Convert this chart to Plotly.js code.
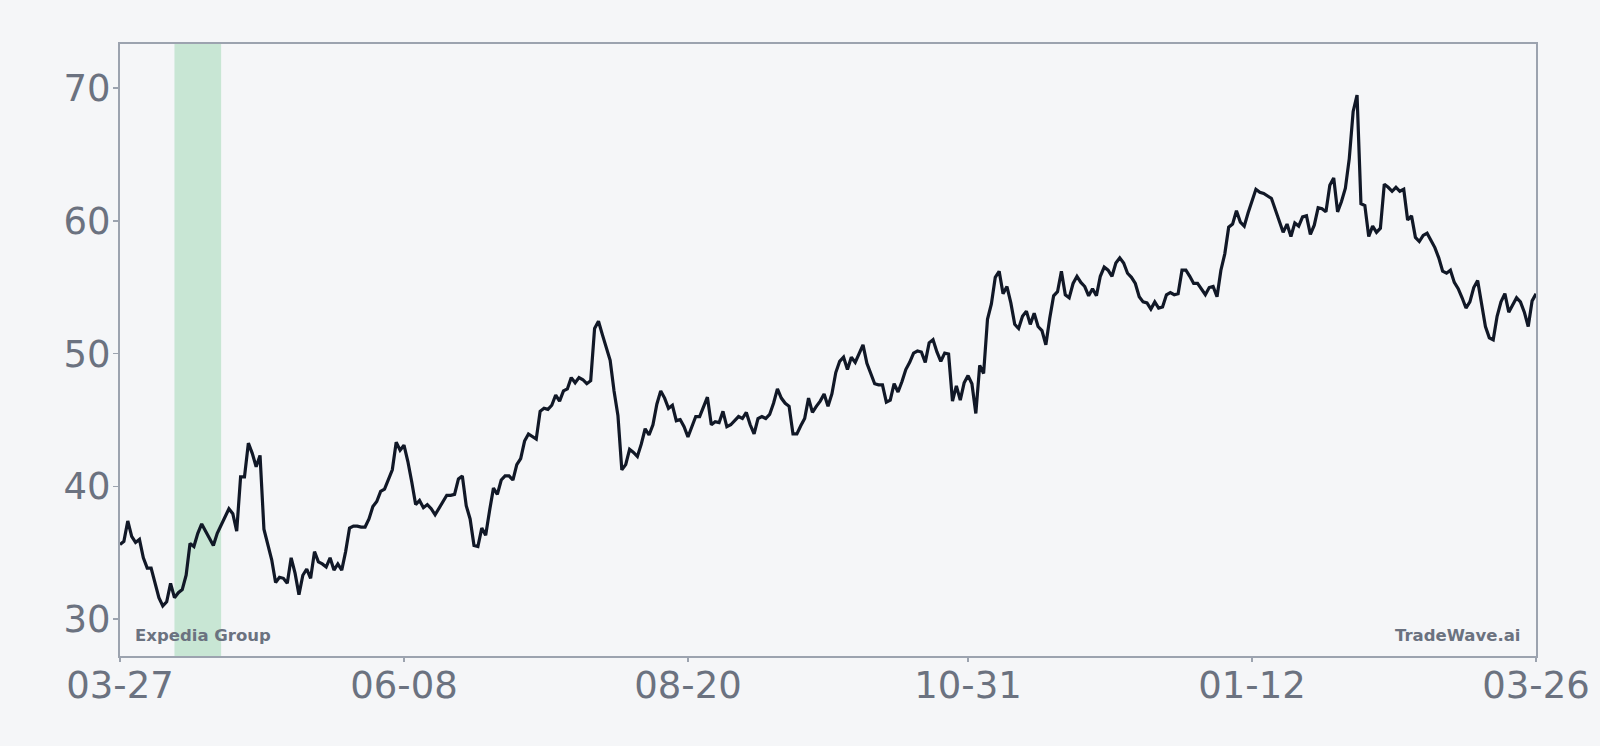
<!DOCTYPE html>
<html>
<head>
<meta charset="utf-8">
<script src="https://cdn.plot.ly/plotly-3.0.1.min.js"></script>
<style>
  html, body { margin: 0; padding: 0; background: #f5f6f8; }
  #chart { width: 1600px; height: 746px; }
</style>
</head>
<body>
<div id="chart"></div>
<script>
// days after 2024-03-27
var dayOffsets = [
  0,1,2,3,4,5,6,7,8,9,10,11,12,13,14,15,16,17,18,19,20,21,22,24,25,27,28,29,30,31,
  32,33,34,35,36,37,38,39,40,41,42,43,44,45,46,47,48,49,50,51,52,53,54,55,56,57,58,59,60,61,
  62,63,64,65,66,67,68,69,70,71,72,73,74,75,76,77,78,79,80,81,82,83,84,85,86,87,88,89,90,91,
  92,93,94,95,96,97,98,99,100,101,102,103,104,105,107,108,109,110,111,112,113,114,115,116,117,118,119,120,121,122,
  123,124,125,126,127,128,129,130,131,132,133,134,135,136,137,138,139,140,141,142,143,144,145,146,147,148,149,150,151,152,
  153,154,155,156,157,159,160,161,162,163,164,165,166,167,168,169,170,171,172,173,174,175,176,177,178,179,180,181,182,183,
  184,185,186,187,188,189,191,192,193,194,195,196,197,198,199,200,201,202,203,204,205,206,207,208,209,210,211,212,213,214,
  215,216,217,218,219,220,221,222,223,224,225,226,227,228,229,230,231,232,233,234,235,236,237,238,239,240,241,242,243,244,
  245,246,247,248,249,250,251,252,253,254,255,256,257,258,259,260,261,262,263,264,265,266,267,268,269,270,271,272,273,274,
  275,276,277,278,279,280,281,282,283,284,285,286,287,288,289,290,291,292,293,294,296,297,298,299,300,301,302,303,304,305,
  306,307,308,309,310,311,312,313,314,315,316,317,318,319,320,321,322,323,324,325,326,327,328,329,330,331,332,333,334,335,
  336,338,339,340,341,342,343,344,345,346,347,348,349,350,351,352,353,354,355,356,357,359,360,361,362,363,364
];

var prices = [
  35.63,35.86,37.40,36.24,35.78,36.01,34.62,33.85,33.85,32.77,31.62,31.00,31.31,32.70,31.62,32.00,32.23,33.31,35.70,35.47,36.47,37.17,36.63,35.55,36.47,37.78,38.32,37.94,36.63,40.71,
  40.71,43.26,42.49,41.48,42.33,36.78,35.63,34.47,32.77,33.16,33.08,32.70,34.62,33.47,31.85,33.31,33.78,33.08,35.09,34.32,34.16,33.93,34.62,33.70,34.16,33.70,35.09,36.86,37.01,37.01,
  36.94,36.94,37.55,38.48,38.86,39.63,39.79,40.48,41.25,43.33,42.72,43.10,41.87,40.33,38.63,38.94,38.40,38.63,38.32,37.86,38.32,38.79,39.33,39.33,39.40,40.56,40.79,38.55,37.55,35.55,
  35.47,36.86,36.32,38.17,39.87,39.40,40.48,40.79,40.79,40.48,41.64,42.10,43.41,43.95,43.56,45.65,45.88,45.80,46.11,46.88,46.42,47.19,47.34,48.19,47.80,48.19,48.03,47.73,47.96,51.89,
  52.43,51.43,50.50,49.50,47.19,45.34,41.25,41.64,42.79,42.56,42.25,43.18,44.34,43.87,44.64,46.19,47.19,46.65,45.88,46.11,44.95,45.03,44.49,43.72,44.49,45.26,45.26,45.95,46.72,44.64,
  44.87,44.80,45.65,44.49,44.64,45.26,45.11,45.57,44.64,43.95,45.11,45.26,45.11,45.42,46.26,47.34,46.65,46.26,46.03,43.95,43.95,44.57,45.11,46.65,45.57,46.03,46.42,46.96,46.03,46.96,
  48.57,49.42,49.73,48.80,49.73,49.34,50.66,49.27,48.57,47.73,47.65,47.65,46.34,46.49,47.73,47.11,47.88,48.80,49.34,50.04,50.19,50.12,49.34,50.81,51.04,50.12,49.42,50.04,49.96,46.42,
  47.57,46.49,47.80,48.34,47.73,45.49,49.11,48.50,52.58,53.74,55.74,56.20,54.51,55.05,53.82,52.20,51.89,52.81,53.20,52.20,53.04,52.04,51.73,50.66,52.66,54.35,54.66,56.20,54.43,54.20,
  55.28,55.82,55.36,55.05,54.35,54.89,54.35,55.82,56.51,56.28,55.82,56.82,57.21,56.82,56.05,55.74,55.28,54.28,53.89,53.82,53.35,53.89,53.43,53.51,54.43,54.59,54.43,54.51,56.28,56.28,
  55.82,55.28,55.28,54.82,54.43,54.97,55.05,54.28,56.28,57.51,59.52,59.75,60.75,59.90,59.60,60.60,61.45,62.37,62.14,62.06,61.68,60.83,60.13,59.13,59.75,58.82,59.83,59.60,60.29,60.37,
  58.98,59.67,60.98,60.91,60.67,62.68,63.22,60.67,61.45,62.45,64.68,68.23,69.46,61.29,61.14,58.82,59.60,59.13,59.44,62.76,62.52,62.22,62.52,62.22,62.37,60.06,60.37,58.75,58.44,58.90,
  59.06,57.98,57.21,56.20,56.05,56.28,55.36,54.89,54.20,53.43,53.89,54.97,55.51,53.58,52.04,51.19,51.04,52.81,53.89,54.51,53.12,54.20,53.89,53.12,52.04,53.97,54.50
];

var tickDates = ['2024-03-27', '2024-06-08', '2024-08-20', '2024-10-31', '2025-01-12', '2025-03-26'];
var tickLabels = ['03-27', '06-08', '08-20', '10-31', '01-12', '03-26'];
var bandStart = '2024-04-10';
var bandEnd = '2024-04-22';
var yTicks = [30, 40, 50, 60, 70];

var start = Date.UTC(2024, 2, 27);
var dates = dayOffsets.map(function (d) {
  return new Date(start + d * 86400000).toISOString().slice(0, 10);
});

var grey = '#6b7280';
var frame = '#9ca3af';
var font = 'DejaVu Sans, Verdana, sans-serif';

var trace = {
  x: dates,
  y: prices,
  type: 'scatter',
  mode: 'lines',
  line: { color: '#111827', width: 3.2 },
  hoverinfo: 'x+y'
};

var layout = {
  width: 1600,
  height: 746,
  margin: { l: 120, r: 64, t: 44, b: 90 },
  paper_bgcolor: '#f5f6f8',
  plot_bgcolor: '#f5f6f8',
  showlegend: false,
  xaxis: {
    type: 'date',
    range: [tickDates[0], tickDates[tickDates.length - 1]],
    tickvals: tickDates,
    ticktext: tickLabels,
    ticks: 'outside',
    ticklen: 4,
    tickwidth: 1.5,
    tickcolor: frame,
    ticklabelstandoff: -8,
    tickfont: { family: font, size: 37, color: grey },
    showgrid: false,
    zeroline: false,
    showline: true,
    mirror: true,
    linecolor: frame,
    linewidth: 2
  },
  yaxis: {
    range: [27.23, 73.31],
    tickvals: yTicks,
    ticks: 'outside',
    ticklen: 5,
    tickwidth: 1.5,
    tickcolor: frame,
    ticklabelstandoff: -5,
    tickfont: { family: font, size: 37, color: grey },
    showgrid: false,
    zeroline: false,
    showline: true,
    mirror: true,
    linecolor: frame,
    linewidth: 2
  },
  shapes: [{
    type: 'rect',
    xref: 'x',
    yref: 'paper',
    x0: bandStart,
    x1: bandEnd,
    y0: 0,
    y1: 1,
    fillcolor: '#c8e6d4',
    line: { width: 0 },
    layer: 'below'
  }],
  annotations: [
    {
      text: '<b>Expedia Group</b>',
      xref: 'paper', yref: 'paper',
      x: 0, y: 0,
      xanchor: 'left', yanchor: 'bottom',
      xshift: 13, yshift: 9,
      showarrow: false,
      font: { family: font, size: 16.5, color: grey }
    },
    {
      text: '<b>TradeWave.ai</b>',
      xref: 'paper', yref: 'paper',
      x: 1, y: 0,
      xanchor: 'right', yanchor: 'bottom',
      xshift: -14, yshift: 9,
      showarrow: false,
      font: { family: font, size: 16.5, color: grey }
    }
  ]
};

Plotly.newPlot('chart', [trace], layout, { displayModeBar: false, staticPlot: true });
</script>
</body>
</html>
